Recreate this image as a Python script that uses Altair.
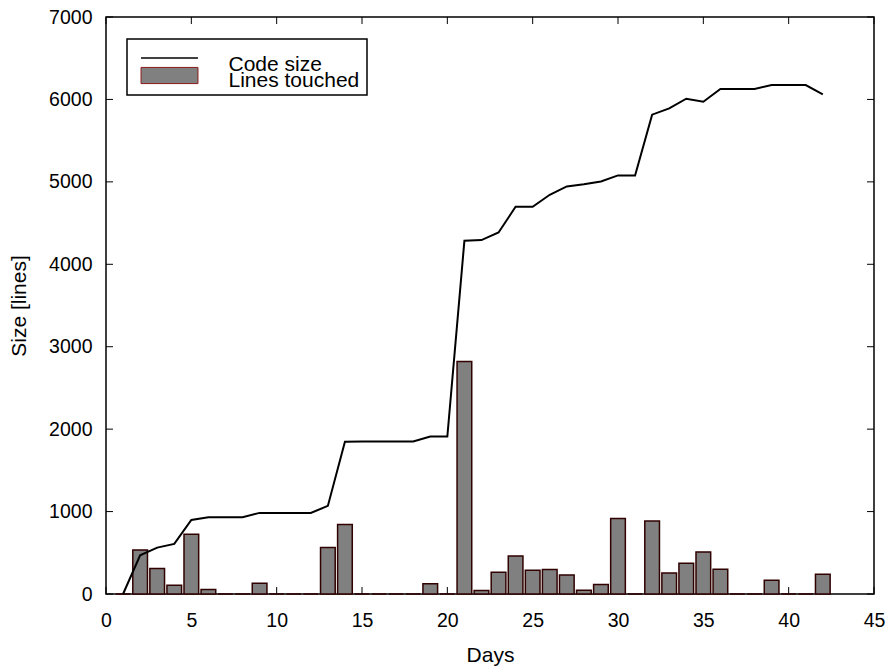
import altair as alt
import pandas as pd

# ---- data ----
days = list(range(1, 43))
code_size = [0, 470, 563, 608, 899, 932, 932, 932, 984, 984, 984, 984, 1069, 1846,
             1850, 1850, 1850, 1850, 1910, 1910, 4285, 4294, 4386, 4698, 4698, 4843,
             4944, 4970, 5005, 5078, 5078, 5815, 5891, 6009, 5972, 6126, 6126, 6126,
             6175, 6175, 6175, 6061]
lines_touched = [0, 535, 309, 107, 725, 54, 0, 0, 131, 0, 0, 0, 563, 842,
                 0, 0, 0, 0, 123, 0, 2821, 42, 264, 462, 288, 296, 232, 46, 114,
                 915, 0, 887, 256, 373, 511, 300, 0, 0, 167, 0, 0, 240]
series_names = ["Code size", "Lines touched"]
x_ticks = list(range(0, 46, 5))
y_ticks = list(range(0, 7001, 1000))

df = pd.DataFrame({"day": days, "code": code_size, "touched": lines_touched})
xt_df = pd.DataFrame({"t": x_ticks})
yt_df = pd.DataFrame({"t": y_ticks})
box_df = pd.DataFrame({"series": series_names})
code_df = pd.DataFrame({"code_entry": series_names[:1]})
touch_df = pd.DataFrame({"touched_entry": series_names[1:]})

W, H = 768, 577
FONT = "Liberation Sans"

x_scale = alt.Scale(domain=[0, 45], nice=False, zero=False)
y_scale = alt.Scale(domain=[0, 7000], nice=False)

x_axis = alt.Axis(values=x_ticks, title="Days", domain=False, ticks=False, grid=False,
                  labelFontSize=19.5, labelPadding=17, labelFlush=False,
                  labelOverlap=False, titleFontSize=21, titleX=W / 2, titleY=67,
                  titleBaseline="alphabetic", titleFontWeight="normal")
y_axis = alt.Axis(values=y_ticks, title="Size [lines]", format="d", domain=False,
                  ticks=False, grid=False, labelFontSize=19.5, labelPadding=14,
                  labelFlush=False, labelOverlap=False, titleFontSize=21,
                  titleX=-81, titleY=H / 2, titleAngle=270, titleBaseline="alphabetic",
                  titleAlign="center", titleFontWeight="normal")

# inward tick marks on all four sides (gnuplot style), placed by the scales
tick_style = dict(size=7, thickness=1, color="black", opacity=1)
xt_bottom = alt.Chart(xt_df).mark_tick(orient="vertical", **tick_style).encode(
    x=alt.X("t:Q", scale=x_scale, axis=x_axis), y=alt.value(H - 3.5))
xt_top = alt.Chart(xt_df).mark_tick(orient="vertical", **tick_style).encode(
    x=alt.X("t:Q", scale=x_scale, axis=x_axis), y=alt.value(3.5))
yt_left = alt.Chart(yt_df).mark_tick(orient="horizontal", **tick_style).encode(
    y=alt.Y("t:Q", scale=y_scale, axis=y_axis), x=alt.value(3.5))
yt_right = alt.Chart(yt_df).mark_tick(orient="horizontal", **tick_style).encode(
    y=alt.Y("t:Q", scale=y_scale, axis=y_axis), x=alt.value(W - 3.5))

bars = alt.Chart(df).transform_calculate(
    lo="datum.day - 0.43", hi="datum.day + 0.43", base="0"
).mark_rect(fill="#808080", stroke="#300000", strokeWidth=1.5).encode(
    x=alt.X("lo:Q", scale=x_scale, axis=x_axis),
    x2="hi:Q",
    y=alt.Y("touched:Q", scale=y_scale, axis=y_axis),
    y2="base:Q",
)

line = alt.Chart(df).mark_line(color="black", strokeWidth=2).encode(
    x=alt.X("day:Q", scale=x_scale, axis=x_axis),
    y=alt.Y("code:Q", scale=y_scale, axis=y_axis),
)

# ---- key: a framed box plus one entry per series ----
line_path = "M-3.35,-0.84H3.35V-0.69H-3.35Z"
rect_path = "M-3.35,-1.62H3.35V0.28H-3.35Z"

key_box = alt.Chart(box_df).transform_filter("false").mark_point(
    filled=True, color="transparent", opacity=1).encode(
    color=alt.Color("series:N",
                    scale=alt.Scale(domain=series_names, range=["transparent", "transparent"]),
                    legend=alt.Legend(title=None, orient="none", legendX=21, legendY=22,
                                      padding=5.5, strokeColor="black",
                                      labelExpr="''", labelColor="transparent",
                                      symbolFillColor="transparent",
                                      symbolStrokeColor="transparent",
                                      labelOffset=208, zindex=1)))

key_code = alt.Chart(code_df).transform_filter("false").mark_point(
    filled=True, color="black", stroke="black", strokeWidth=1, opacity=1).encode(
    shape=alt.Shape("code_entry:N", scale=alt.Scale(domain=series_names[:1], range=[line_path]),
                    legend=alt.Legend(title=None, orient="none", legendX=38, legendY=37,
                                      padding=0, labelOffset=48.5, symbolOffset=15,
                                      symbolFillColor="black", symbolStrokeColor="black",
                                      symbolOpacity=1, zindex=2)))

key_touch = alt.Chart(touch_df).transform_filter("false").mark_point(
    filled=True, fill="#808080", stroke="#8b1a1a", strokeWidth=1, shape=rect_path,
    opacity=1).encode(
    fill=alt.Fill("touched_entry:N", scale=alt.Scale(domain=series_names[1:], range=["#808080"]),
                  legend=alt.Legend(title=None, orient="none", legendX=38, legendY=53.7,
                                    padding=0, labelOffset=48.5, symbolOffset=15,
                                    symbolType=rect_path, symbolStrokeColor="#8b1a1a",
                                    symbolOpacity=1, zindex=2)))

chart = alt.layer(xt_bottom, xt_top, yt_left, yt_right, bars, line,
                  key_box, key_code, key_touch).properties(
    width=W, height=H,
    padding={"left": 106, "top": 17, "right": 14, "bottom": 77},
    autosize=alt.AutoSizeParams(type="none"),
    background="white",
).configure_view(
    stroke="black", strokeWidth=1.5
).configure_axis(
    labelFont=FONT, titleFont=FONT, labelColor="black", titleColor="black"
).configure_legend(
    cornerRadius=0, strokeWidth=1.5, labelFont=FONT, labelFontSize=21, labelColor="black",
    labelLimit=400, symbolSize=289, symbolStrokeWidth=1,
)

chart.save("out.html", embed_options={"renderer": "svg", "actions": False})
